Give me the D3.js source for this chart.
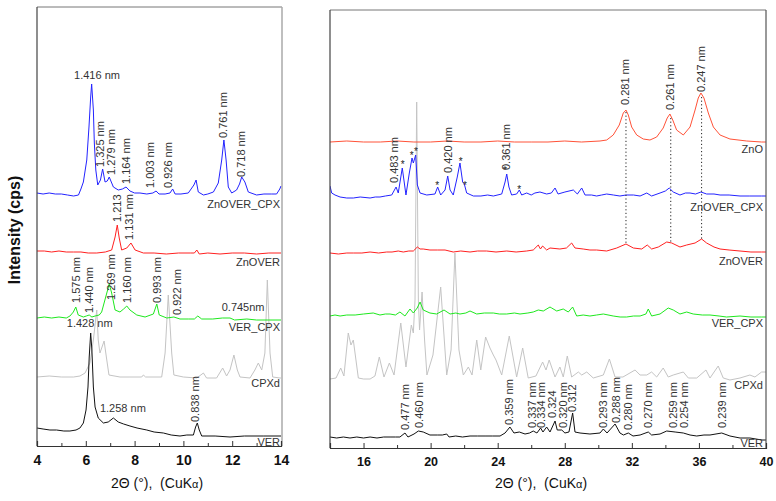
<!DOCTYPE html>
<html><head><meta charset="utf-8">
<script src="https://cdn.jsdelivr.net/npm/d3@7/dist/d3.min.js"></script>
<style>
body{margin:0;background:#fff}
svg{display:block}
text{font-family:Arial,"Liberation Sans",sans-serif}
</style>
</head><body>
<svg id="c" width="776" height="501"></svg>
<script>
// ---------------- DATA ----------------
const seriesNames = ["ZnO","ZnOVER_CPX","ZnOVER","VER_CPX","CPXd","VER"];
const leftTicks = [4,6,8,10,12,14];
const leftMinorTicks = [5,7,9,11,13];
const rightTicks = [16,20,24,28,32,36,40];
const rightMinorTicks = [14,18,22,26,30,34,38];
const xTitle = "2\u0398 (\u00B0),  (Cu";
const yTitle = "Intensity (cps)";

// left panel (2θ 4–14), values [2θ, intensity]
const leftZnOVER_CPX = [[4.0,253],[4.25,252],[4.5,253],[4.75,252],[5.0,252],[5.25,251],[5.5,250],[5.7,251],[5.8,257],[5.9,264],[6.04,286],[6.13,319],[6.2,349],[6.24,362],[6.31,336],[6.35,303],[6.41,276],[6.49,261],[6.6,266],[6.69,277],[6.79,264],[6.88,265],[6.96,269],[7.13,259],[7.33,256],[7.5,257],[7.65,259],[7.81,255],[8.0,253],[8.22,253],[8.5,252],[8.75,253],[8.88,255],[9.0,252],[9.25,252],[9.45,253],[9.56,257],[9.66,252],[9.9,252],[10.2,253],[10.43,261],[10.52,266],[10.61,254],[10.82,251],[11.0,252],[11.23,254],[11.43,263],[11.57,286],[11.66,306],[11.75,286],[11.84,259],[11.98,253],[12.18,256],[12.3,262],[12.39,269],[12.52,264],[12.66,254],[13.0,251],[13.3,252],[13.6,252],[13.82,252],[13.95,257],[14.0,260]];
const leftZnOVER = [[4.0,195],[4.3,195],[4.6,194],[4.9,195],[5.2,194],[5.5,194],[5.8,194],[6.1,193],[6.45,193],[6.8,194],[7.06,196],[7.2,209],[7.29,221],[7.37,208],[7.47,196],[7.68,198],[7.85,203],[8.02,196],[8.36,193],[8.8,193],[9.3,192],[9.8,193],[10.3,193],[10.45,193],[10.55,196],[10.65,192],[11.0,193],[11.5,192],[12.0,193],[12.5,193],[13.0,192],[13.5,193],[14.0,193]];
const leftVER_CPX = [[4.0,128],[4.3,129],[4.6,128],[4.9,129],[5.2,128],[5.35,130],[5.49,134],[5.59,139],[5.69,131],[5.9,129],[6.02,130],[6.14,131],[6.25,129],[6.38,130],[6.55,131],[6.65,134],[6.86,153],[6.96,162],[7.06,153],[7.2,136],[7.4,134],[7.55,137],[7.68,140],[7.81,136],[8.09,131],[8.43,129],[8.77,132],[8.91,142],[9.01,131],[9.32,128],[9.61,129],[9.86,127],[10.2,127],[10.45,127],[10.59,130],[10.75,127],[11.2,127],[11.6,128],[11.91,128],[12.1,126],[12.6,127],[13.0,126],[13.5,126],[14.0,126]];
const leftCPXd = [[4.0,69],[4.5,70],[5.0,69],[5.5,69],[5.76,70],[5.97,73],[6.17,83],[6.31,106],[6.45,136],[6.51,106],[6.58,93],[6.75,105],[6.86,86],[6.95,71],[7.4,69],[7.81,69],[8.29,69],[8.36,71],[8.45,69],[9.11,69],[9.25,93],[9.38,151],[9.52,93],[9.61,71],[10.0,69],[10.55,68],[10.82,73],[10.95,68],[11.36,68],[11.61,78],[11.77,70],[11.91,76],[12.07,91],[12.21,76],[12.32,69],[12.73,68],[12.93,76],[13.07,83],[13.21,76],[13.34,93],[13.44,166],[13.55,93],[13.66,69],[13.96,68],[14.0,68]];
const leftVER = [[4.0,18],[4.25,17],[4.53,16],[4.8,16],[5.1,15],[5.35,15],[5.6,16],[5.76,18],[5.9,23],[6.01,36],[6.09,59],[6.14,89],[6.2,113],[6.25,96],[6.31,59],[6.38,39],[6.51,28],[6.72,23],[6.92,24],[7.13,28],[7.33,24],[7.55,22],[7.81,20],[8.1,18],[8.5,16],[8.8,14],[9.18,13],[9.5,11],[9.86,10],[10.14,11],[10.41,11],[10.5,19],[10.57,23],[10.65,16],[10.75,10],[11.3,10],[11.91,9],[12.5,10],[13.27,10],[14.0,10]];

// right panel (2θ 14–40)
const rightZnO = [[14,306],[15,307],[16,306],[17,306],[18,307],[19,306],[20,306],[21,307],[22,306],[23,306],[24,307],[25,306],[26,306],[27,306],[28,307],[29,306],[30.1,307],[30.5,308],[30.89,313],[31.25,323],[31.49,335],[31.65,338],[31.79,333],[31.99,321],[32.29,313],[32.68,309],[33.08,308],[33.48,311],[33.87,320],[34.11,330],[34.27,334],[34.44,328],[34.67,318],[35.07,313],[35.47,321],[35.77,338],[35.96,350],[36.12,355],[36.3,350],[36.56,335],[36.86,321],[37.26,313],[37.85,309],[38.85,307],[39.74,306],[40,306]];
const rightZnOVER_CPX = [[14.0,262],[14.1,255],[14.3,253],[14.6,251],[15.0,250],[15.39,250],[15.8,251],[16.39,250],[16.7,251],[16.98,251],[17.3,252],[17.68,253],[17.94,261],[18.07,255],[18.31,280],[18.53,253],[18.73,275],[18.89,290],[18.97,285],[19.11,293],[19.21,263],[19.37,255],[19.77,253],[20.26,254],[20.42,261],[20.6,253],[20.86,258],[21.02,272],[21.16,258],[21.35,253],[21.59,271],[21.75,285],[21.91,266],[22.01,264],[22.15,255],[22.55,252],[23.0,252],[23.4,253],[23.74,252],[24.24,254],[24.44,266],[24.54,274],[24.67,261],[24.83,253],[25.13,254],[25.29,258],[25.43,253],[25.73,255],[26.0,253],[26.22,255],[26.52,256],[26.92,254],[27.2,255],[27.42,260],[27.6,254],[28.01,256],[28.51,258],[28.75,254],[29.01,260],[29.21,253],[29.6,253],[29.9,252],[30.2,253],[30.5,254],[30.9,253],[31.29,252],[31.65,253],[32.1,253],[32.49,252],[32.89,255],[33.18,252],[33.68,255],[34.0,257],[34.23,260],[34.47,256],[34.87,253],[35.2,255],[35.47,255],[35.8,254],[36.12,256],[36.46,254],[36.9,254],[37.26,253],[37.8,253],[38.45,252],[39.0,252],[39.74,252],[40.0,252]];
const rightZnOVER = [[14.0,195],[14.5,194],[15.0,195],[15.39,195],[15.9,195],[16.39,196],[16.9,195],[17.38,196],[17.7,196],[18.07,197],[18.37,196],[18.7,197],[18.97,197],[19.21,201],[19.37,199],[19.56,199],[19.96,198],[20.4,198],[20.86,198],[21.35,196],[21.8,197],[22.35,196],[22.8,197],[23.34,197],[23.9,196],[24.54,197],[25.1,196],[25.73,197],[26.12,198],[26.42,203],[26.55,199],[26.68,202],[26.92,198],[27.12,200],[27.71,199],[28.1,200],[28.41,205],[28.61,200],[29.1,199],[29.5,198],[29.9,198],[30.5,197],[31.1,200],[31.65,204],[32.09,200],[32.59,199],[32.92,203],[33.18,199],[33.58,201],[34.08,206],[34.38,205],[34.87,201],[35.27,203],[35.77,205],[36.16,209],[36.46,205],[36.9,201],[37.26,199],[37.8,198],[38.45,197],[39.1,196],[39.74,196],[40.0,196]];
const rightVER_CPX = [[14.0,132],[14.3,133],[14.6,132],[15.0,133],[15.5,133],[16.0,134],[16.58,135],[16.98,133],[17.3,134],[17.58,134],[17.9,133],[18.17,136],[18.47,132],[18.77,139],[18.97,135],[19.2,140],[19.37,146],[19.56,138],[19.96,135],[20.36,134],[20.8,138],[21.16,134],[21.5,135],[21.75,134],[22.1,135],[22.35,137],[22.75,134],[23.2,135],[23.74,135],[24.1,134],[24.54,134],[25.0,135],[25.33,134],[25.8,135],[26.12,136],[26.42,138],[26.72,137],[27.12,141],[27.22,140],[27.52,137],[27.91,139],[28.21,136],[28.47,141],[28.71,132],[29.1,133],[29.5,132],[29.9,133],[30.3,134],[30.89,132],[31.3,131],[31.69,131],[32.1,132],[32.49,132],[32.84,134],[32.98,139],[33.18,132],[33.68,134],[34.17,140],[34.47,138],[34.87,134],[35.27,136],[35.66,134],[36.2,133],[36.66,133],[37.2,132],[37.65,131],[38.45,132],[39.1,131],[39.74,131],[40.0,131]];
const rightCPXd = [[14.0,69],[14.36,70],[14.64,80],[14.83,72],[15.09,115],[15.25,103],[15.39,108],[15.69,70],[16.0,69],[16.39,69],[16.68,72],[16.94,91],[17.22,71],[17.54,85],[17.82,73],[18.22,125],[18.53,81],[18.85,123],[18.97,115],[19.07,148],[19.17,346],[19.27,148],[19.34,118],[19.49,156],[19.64,108],[19.78,73],[20.14,93],[20.6,161],[20.96,73],[21.22,98],[21.45,195],[21.69,98],[21.95,73],[22.25,81],[22.47,73],[22.75,108],[22.99,78],[23.28,111],[23.54,100],[23.74,93],[23.9,88],[24.24,73],[24.69,112],[25.13,71],[25.49,100],[25.82,70],[26.28,72],[26.68,86],[26.88,78],[27.07,88],[27.42,71],[27.71,81],[27.91,71],[28.15,92],[28.41,71],[28.81,76],[29.01,73],[29.31,76],[29.7,70],[30.3,73],[30.66,89],[31.0,71],[31.47,71],[32.19,78],[32.49,73],[32.89,73],[33.18,76],[33.48,71],[33.87,80],[34.17,71],[34.47,73],[35.07,76],[35.37,70],[35.87,70],[36.42,78],[36.66,70],[37.15,82],[37.45,70],[37.85,68],[38.45,70],[39.04,73],[39.34,71],[39.74,76],[40.0,76]];
const rightVER = [[14.0,11],[14.4,10],[14.8,11],[15.19,10],[15.6,11],[16.0,10],[16.39,11],[16.8,10],[17.2,11],[17.58,11],[17.9,11],[18.17,11],[18.47,15],[18.65,11],[19.01,14],[19.27,17],[19.56,16],[19.96,13],[20.4,13],[20.7,13],[20.96,14],[21.1,11],[21.5,12],[21.9,11],[22.35,12],[22.8,12],[23.3,12],[23.7,12],[24.14,12],[24.44,15],[24.73,21],[24.97,15],[25.29,16],[25.63,14],[25.9,15],[26.12,17],[26.34,15],[26.56,20],[26.7,16],[26.92,21],[27.12,16],[27.42,27],[27.55,18],[27.82,18],[28.01,15],[28.25,16],[28.47,35],[28.61,16],[28.91,15],[29.5,14],[30.1,15],[30.3,19],[30.52,15],[31.0,24],[31.29,15],[31.5,13],[31.79,15],[32.07,12],[32.49,13],[32.98,16],[33.18,13],[33.68,14],[34.08,17],[34.58,16],[35.07,15],[35.47,13],[35.87,12],[36.3,13],[36.66,13],[37.36,15],[37.85,12],[38.45,10],[39.04,10],[39.76,8],[40.0,8]];

// peak annotations [text, 2θ, intensity, rotated?]
const leftPeakLabels = [
 ["1.416 nm",6.46,371,0],["1.325 nm",6.58,279,1],["1.279 nm",7.03,271,1],["1.164 nm",7.64,262,1],
 ["1.003 nm",8.63,258,1],["0.926 nm",9.37,258,1],["0.761 nm",11.61,308,1],["0.718 nm",12.35,269,1],
 ["1.213",7.28,224,1],["1.131 nm",7.77,206,1],
 ["1.575 nm",5.59,143,1],["1.440 nm",6.13,133,1],["1.269 nm",7.03,146,1],["1.160 nm",7.68,143,1],
 ["0.993 nm",8.91,143,1],["0.922 nm",9.73,131,1],["0.838 nm",10.50,24,1]
];
const leftFlatLabels = [["0.745nm",11.57,139],["1.428 nm",5.22,123],["1.258 nm",6.58,38]];
const rightPeakLabels = [
 ["0.281 nm",31.59,343],["0.261 nm",34.27,338],["0.247 nm",36.16,356],
 ["0.483 nm",17.82,265],["0.420 nm",21.05,275],["0.361 nm",24.49,278],
 ["0.477 nm",18.47,18],["0.460 nm",19.32,20],["0.359 nm",24.69,23],["0.337 nm",26.03,20],
 ["0.334 nm",26.61,20],["0.324",27.22,30],["0.320 nm",27.88,20],["0.312",28.41,36],
 ["0.293 nm",30.30,20],["0.288 nm",31.05,25],["0.280 nm",31.79,18],["0.270 nm",32.98,20],
 ["0.259 nm",34.47,20],["0.254 nm",35.11,20],["0.239 nm",37.36,20]
];
const rightStars = [[18.34,286],[18.87,295],[19.13,299],[20.40,265],[21.79,289],[22.05,265],[24.44,280],[25.29,261]];
const rightDropLines = [[31.65,336,203],[34.32,330,206],[36.16,351,208]];
const leftNameY = {"ZnOVER_CPX":242,"ZnOVER":184,"VER_CPX":119,"CPXd":63,"VER":4};
const rightNameY = {"ZnO":299,"ZnOVER_CPX":241,"ZnOVER":187,"VER_CPX":125,"CPXd":63,"VER":5};

// ---------------- DRAW ----------------
const colors = {"ZnO":"#ff5238","ZnOVER_CPX":"#2323ff","ZnOVER":"#ff2020","VER_CPX":"#1ee81e","CPXd":"#c4c4c4","VER":"#111"};
const svg = d3.select("#c");
svg.append("rect").attr("width",776).attr("height",501).attr("fill","#fff");

const panels = [
 {id:"L", xr:[37,281], yr:[446,6], xd:[4,14], yd:[0,440], top:7, right:282, nameX:280,
  ticks:leftTicks, minor:leftMinorTicks, tickFont:14, titleX:157,
  series:{"ZnOVER_CPX":leftZnOVER_CPX,"ZnOVER":leftZnOVER,"VER_CPX":leftVER_CPX,"CPXd":leftCPXd,"VER":leftVER},
  names:leftNameY},
 {id:"R", xr:[330,766], yr:[448,10], xd:[14,40], yd:[0,438], top:10, right:766, nameX:763,
  ticks:rightTicks, minor:rightMinorTicks, tickFont:12.5, titleX:541,
  series:{"ZnO":rightZnO,"ZnOVER_CPX":rightZnOVER_CPX,"ZnOVER":rightZnOVER,"VER_CPX":rightVER_CPX,"CPXd":rightCPXd,"VER":rightVER},
  names:rightNameY}
];

panels.forEach(p=>{
  const x = d3.scaleLinear().domain(p.xd).range(p.xr);
  const y = d3.scaleLinear().domain(p.yd).range(p.yr);
  p.x=x; p.y=y;
  const g = svg.append("g");
  g.append("clipPath").attr("id","clip"+p.id).append("rect")
    .attr("x",p.xr[0]).attr("y",p.top).attr("width",p.right-p.xr[0]).attr("height",p.yr[0]-p.top);
  const line = d3.line().x(d=>x(d[0])).y(d=>y(d[1]));
  const order = ["CPXd","VER","VER_CPX","ZnOVER","ZnOVER_CPX","ZnO"];
  const lg = g.append("g").attr("clip-path",`url(#clip${p.id})`);
  order.forEach(k=>{
    if(!p.series[k]) return;
    lg.append("path").datum(p.series[k]).attr("d",line)
      .attr("fill","none").attr("stroke",colors[k]).attr("stroke-width",1)
      .attr("stroke-linejoin","round");
  });
  // frame
  g.append("line").attr("x1",p.xr[0]).attr("x2",p.right).attr("y1",p.top).attr("y2",p.top).attr("stroke","#777").attr("stroke-width",1);
  g.append("line").attr("x1",p.right).attr("x2",p.right).attr("y1",p.top).attr("y2",p.yr[0]).attr("stroke",p.id==="L"?"#aaa":"#555").attr("stroke-width",p.id==="L"?1.5:1.2);
  g.append("line").attr("x1",p.xr[0]).attr("x2",p.xr[0]).attr("y1",p.top).attr("y2",p.yr[0]).attr("stroke","#444").attr("stroke-width",1.2);
  // axes
  const ax = g.append("g").attr("transform",`translate(0,${p.yr[0]})`)
    .call(d3.axisBottom(x).tickValues(p.ticks).tickSize(-5).tickPadding(9).tickFormat(d3.format("d")));
  ax.select(".domain").attr("stroke","#333").attr("stroke-width",1.2);
  ax.selectAll(".tick line").attr("stroke","#333");
  ax.selectAll(".tick text").attr("font-size",p.tickFont).attr("font-weight","bold").attr("fill","#111")
    .attr("font-family","Arial, 'Liberation Sans', sans-serif");
  const axm = g.append("g").attr("transform",`translate(0,${p.yr[0]})`)
    .call(d3.axisBottom(x).tickValues(p.minor).tickSize(-3).tickFormat(""));
  axm.select(".domain").remove();
  axm.selectAll(".tick line").attr("stroke","#333");
  // x title
  const t = g.append("text").attr("x",p.titleX).attr("y",488).attr("text-anchor","middle")
    .attr("font-size",14).attr("fill","#111").style("white-space","pre");
  t.append("tspan").text(xTitle + "K");
  t.append("tspan").attr("font-size",11).text("\u03B1");
  t.append("tspan").text(")");
  // series names
  Object.entries(p.names).forEach(([k,v])=>{
    g.append("text").attr("x",p.nameX).attr("y",y(v)).attr("dy","0.35em")
      .attr("text-anchor","end").attr("font-size",11).attr("fill","#333").text(k);
  });
});

// peak labels
function rotLabel(p, d){
  const px=p.x(d[1]), py=p.y(d[2]);
  svg.append("text").attr("transform",`translate(${px},${py}) rotate(-90)`)
    .attr("dy","0.35em").attr("font-size",11).attr("fill","#333").text(d[0]);
}
const L=panels[0], R=panels[1];
leftPeakLabels.forEach(d=>{
  if(d[3]) rotLabel(L,d);
  else svg.append("text").attr("x",L.x(d[1])).attr("y",L.y(d[2])).attr("dy","0.35em")
    .attr("text-anchor","middle").attr("font-size",11).attr("fill","#333").text(d[0]);
});
leftFlatLabels.forEach(d=>{
  svg.append("text").attr("x",L.x(d[1])).attr("y",L.y(d[2])).attr("dy","0.35em")
    .attr("font-size",11).attr("fill","#333").text(d[0]);
});
rightPeakLabels.forEach(d=>rotLabel(R,d));
rightStars.forEach(d=>{
  svg.append("text").attr("x",R.x(d[0])).attr("y",R.y(d[1])).attr("dy","0.6em")
    .attr("text-anchor","middle").attr("font-size",10).attr("fill","#222").text("*");
});
rightDropLines.forEach(d=>{
  svg.append("line").attr("x1",R.x(d[0])).attr("x2",R.x(d[0])).attr("y1",R.y(d[1])).attr("y2",R.y(d[2]))
    .attr("stroke","#222").attr("stroke-width",1).attr("stroke-dasharray","1.2,2.4");
});

// y title
svg.append("text").attr("transform","translate(20,230) rotate(-90)").attr("text-anchor","middle")
  .attr("font-size",16).attr("font-weight","bold").attr("fill","#111").text(yTitle);
</script>
</body></html>
